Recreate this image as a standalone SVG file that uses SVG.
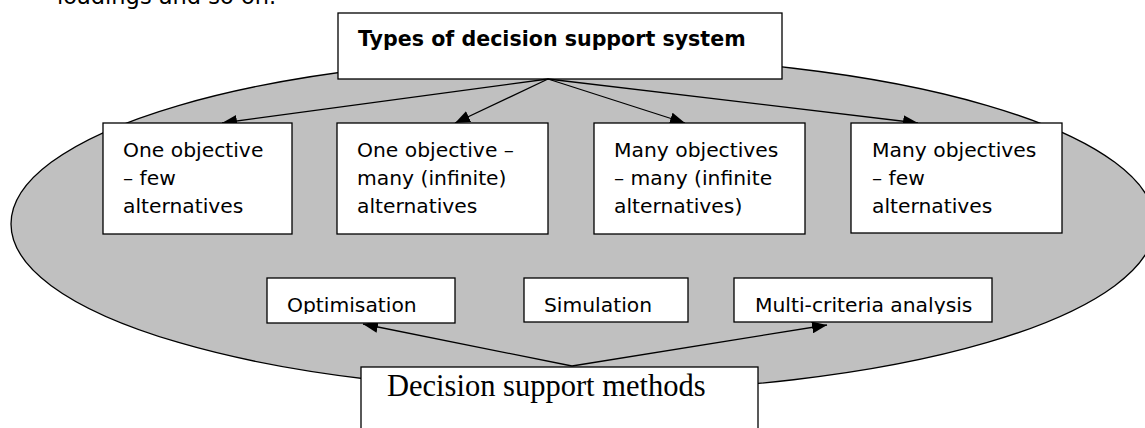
<svg xmlns="http://www.w3.org/2000/svg" width="1145" height="428" viewBox="0 0 1145 428">
<defs>
<style>
.box{fill:#fff;stroke:#000;stroke-width:1.3}
.t{font-family:"DejaVu Sans","Verdana",sans-serif;font-size:20.3px;fill:#000}
.tb{font-family:"DejaVu Sans","Verdana",sans-serif;font-size:20.6px;font-weight:bold;fill:#000}
.ts{font-family:"Liberation Serif","Times New Roman",serif;font-size:30.5px;fill:#000}
.c{stroke:#000;stroke-width:1.3;fill:none;marker-end:url(#ah)}
</style>
<marker id="ah" markerUnits="userSpaceOnUse" markerWidth="16" markerHeight="12" refX="15" refY="6" orient="auto">
<path d="M0,0 L15,6 L0,12 z" fill="#000"/>
</marker>
<clipPath id="clipOpt"><rect x="267" y="278" width="188" height="36"/></clipPath>
<clipPath id="clipSim"><rect x="524" y="278" width="164" height="36"/></clipPath>
<clipPath id="clipMca"><rect x="734" y="278" width="258" height="36"/></clipPath>
</defs>
<text class="t" x="57" y="4" style="font-size:22.5px">loadings and so on.</text>
<ellipse cx="583" cy="224" rx="572" ry="167.5" fill="#c0c0c0" stroke="#000" stroke-width="1.3"/>
<g id="title">
<rect class="box" x="338" y="13" width="444" height="66"/>
<text class="tb" x="358" y="46">Types of decision support system</text>
</g>
<g id="connectors">
<line class="c" x1="548" y1="79" x2="222" y2="123"/>
<line class="c" x1="548" y1="79" x2="455" y2="123"/>
<line class="c" x1="548" y1="79" x2="685" y2="123"/>
<line class="c" x1="548" y1="79" x2="918" y2="123"/>
<line class="c" x1="572" y1="366" x2="363" y2="324"/>
<line class="c" x1="572" y1="366" x2="827" y2="325"/>
</g>
<g id="type1">
<rect class="box" x="103" y="123" width="189" height="111"/>
<text class="t"><tspan x="123" y="157">One objective</tspan><tspan x="123" y="185">– few</tspan><tspan x="123" y="213">alternatives</tspan></text>
</g>
<g id="type2">
<rect class="box" x="337" y="123" width="211" height="111"/>
<text class="t"><tspan x="357" y="157">One objective –</tspan><tspan x="357" y="185">many (infinite)</tspan><tspan x="357" y="213">alternatives</tspan></text>
</g>
<g id="type3">
<rect class="box" x="594" y="123" width="211" height="111"/>
<text class="t"><tspan x="614" y="157">Many objectives</tspan><tspan x="614" y="185">– many (infinite</tspan><tspan x="614" y="213">alternatives)</tspan></text>
</g>
<g id="type4">
<rect class="box" x="851" y="123" width="211" height="110"/>
<text class="t"><tspan x="872" y="157">Many objectives</tspan><tspan x="872" y="185">– few</tspan><tspan x="872" y="213">alternatives</tspan></text>
</g>
<g id="optimisation">
<rect class="box" x="267" y="278" width="188" height="45"/>
<text class="t" x="287" y="312" clip-path="url(#clipOpt)">Optimisation</text>
</g>
<g id="simulation">
<rect class="box" x="524" y="278" width="164" height="44"/>
<text class="t" x="544" y="312" clip-path="url(#clipSim)">Simulation</text>
</g>
<g id="mca">
<rect class="box" x="734" y="278" width="258" height="44"/>
<text class="t" x="755" y="312" clip-path="url(#clipMca)">Multi-criteria analysis</text>
</g>
<g id="methods">
<rect class="box" x="361" y="367" width="397" height="80"/>
<text class="ts" x="387" y="396">Decision support methods</text>
</g>
</svg>
